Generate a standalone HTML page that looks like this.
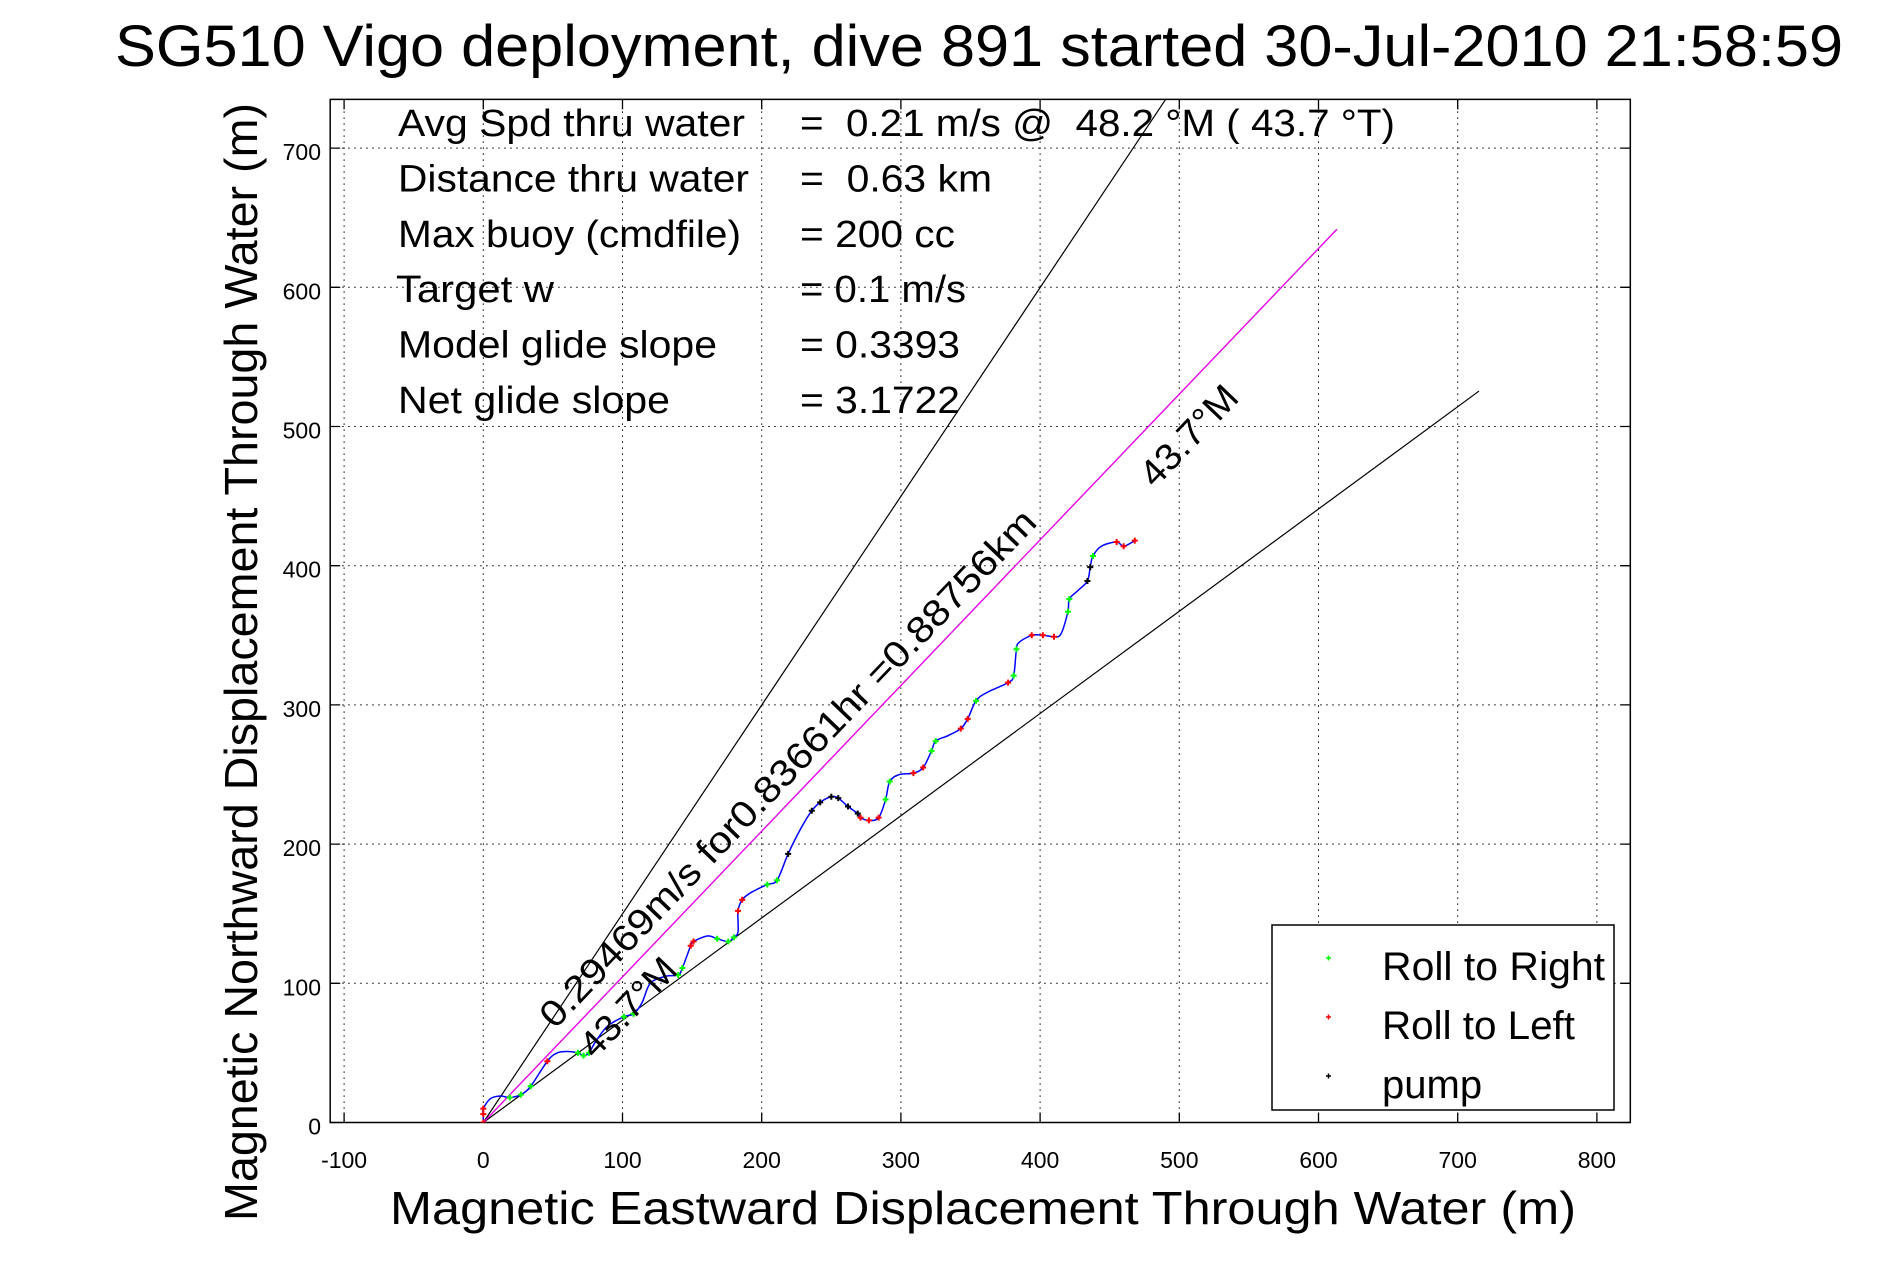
<!DOCTYPE html>
<html><head><meta charset="utf-8"><style>
html,body{margin:0;padding:0;background:#fff;}
svg{display:block;font-family:"Liberation Sans",sans-serif;}
#info text{white-space:pre;}
</style></head><body>
<svg id="chart" width="1891" height="1262" viewBox="0 0 1891 1262" xmlns="http://www.w3.org/2000/svg">
<rect width="1891" height="1262" fill="#fff"/>
<text x="115" y="66" font-size="58" textLength="1728" lengthAdjust="spacingAndGlyphs">SG510 Vigo deployment, dive 891 started 30-Jul-2010 21:58:59</text>
<g id="grid"></g>
<g id="axes"></g>
<g id="marks"></g>
<g font-size="38" id="info"></g>
<text x="983" y="1224" font-size="46" text-anchor="middle" textLength="1186" lengthAdjust="spacingAndGlyphs">Magnetic Eastward Displacement Through Water (m)</text>
<text transform="translate(257,662) rotate(-90)" font-size="46" text-anchor="middle" textLength="1118" lengthAdjust="spacingAndGlyphs">Magnetic Northward Displacement Through Water (m)</text>
<g>
<rect x="1272" y="925" width="342" height="185" fill="#fff" stroke="#000" stroke-width="1.5"/>
<g><path d="M1326 958h5M1328.5 955.5v5" stroke="#0f0" stroke-width="1.5"/><text x="1382" y="980" font-size="40" textLength="223" lengthAdjust="spacingAndGlyphs">Roll to Right</text></g>
<g><path d="M1326 1017h5M1328.5 1014.5v5" stroke="#f00" stroke-width="1.5"/><text x="1382" y="1039" font-size="40" textLength="193" lengthAdjust="spacingAndGlyphs">Roll to Left</text></g>
<g><path d="M1326 1076h5M1328.5 1073.5v5" stroke="#000" stroke-width="1.5"/><text x="1382" y="1098" font-size="40">pump</text></g>
</g>
</svg>
<script>
const xTicks=[-100,0,100,200,300,400,500,600,700,800];
const yTicks=[0,100,200,300,400,500,600,700];
const trackX=[0,0,0,5,12,19,27,34,46,53,61,68,72,76,80,89,101,108,114,120,131,140,143,149,151,161,168,176,180,183,183,186,192,204,211,219,228,236,242,250,255,262,269,271,277,284,289,292,299,309,316,322,325,334,343,348,354,362,377,381,383,385,394,402,410,415,420,421,427,434,436,438,444,455,460,468];
const trackY=[0,6,10,17,19,18,20,26,44,50,51,50,48,50,57,69,76,78,86,100,105,106,111,127,130,134,132,130,133,137,152,160,165,171,174,193,211,224,230,234,233,227,222,219,217,219,232,245,250,251,255,267,274,278,283,290,303,309,316,321,340,345,350,350,349,351,367,376,382,389,399,407,414,417,414,418];
const trackMark=['r','r','r','','','g','g','g','r','','','g','g','g','','','g','g','','','','g','g','r','r','','g','g','g','','r','r','','g','g','k','','k','k','k','k','k','k','r','r','r','g','g','','r','r','g','g','','r','r','g','','r','g','g','','r','r','r','','g','g','','k','k','g','','r','r','r'];
const headingDeg=43.7, distKm=0.88756, spreadDeg=10;
const xMin=-110,xMax=824,yMin=0,yMax=735;
const X0=483.3,Y0=1122.5,S=1.392;
const sx=v=>X0+v*S, sy=v=>Y0-v*S;
const NS="http://www.w3.org/2000/svg";
function mk(tag,attrs,parent){const e=document.createElementNS(NS,tag);for(const k in attrs)e.setAttribute(k,attrs[k]);parent.appendChild(e);return e;}
const L=sx(xMin),R=sx(xMax),T=sy(yMax),B=sy(yMin);
const grid=document.getElementById('grid'),axes=document.getElementById('axes'),marks=document.getElementById('marks');
xTicks.forEach(t=>{
 const l=mk('line',{x1:sx(t),x2:sx(t),y1:T,y2:B,stroke:'#000','stroke-width':1,'stroke-dasharray':'1.5,4.5'},grid);
 
 
 const tk=mk('path',{d:`M${sx(t)} ${B}v-10M${sx(t)} ${T}v10`,stroke:'#000','stroke-width':1.3},axes);
 
 
 const tx=mk('text',{x:sx(t),y:1168,'font-size':23,'text-anchor':'middle'},axes);tx.textContent=t;
 
 
});
yTicks.forEach(t=>{
 const l=mk('line',{x1:L,x2:R,y1:sy(t),y2:sy(t),stroke:'#000','stroke-width':1,'stroke-dasharray':'1.5,4.5'},grid);
 
 
 const tk=mk('path',{d:`M${L} ${sy(t)}h10M${R} ${sy(t)}h-10`,stroke:'#000','stroke-width':1.3},axes);
 
 
 const tx=mk('text',{x:321,y:sy(t)+12,'font-size':23,'text-anchor':'end'},axes);tx.textContent=t;
 
 
});
const box=mk('rect',{x:L,y:T,width:R-L,height:B-T,fill:'none',stroke:'#000','stroke-width':1.5},axes);


const defs=mk('defs',{},marks);const cp=mk('clipPath',{id:'pc'},defs);mk('rect',{x:L,y:T,width:R-L,height:B-T},cp);
marks.setAttribute('clip-path','url(#pc)');
const dm=distKm*1000;
function ray(deg,col,name,w){const a=deg*Math.PI/180;const l=mk('line',{x1:sx(0),y1:sy(0),x2:sx(dm*Math.sin(a)),y2:sy(dm*Math.cos(a)),stroke:col,'stroke-width':w},marks);
 
 }
ray(headingDeg-spreadDeg,'#000','upper-bound-line',1.2);
ray(headingDeg+spreadDeg,'#000','lower-bound-line',1.2);
ray(headingDeg,'#000','heading-line-black',1.2);
ray(headingDeg,'#f0f','heading-line',1.2);
const P=trackX.map((x,i)=>[sx(x),sy(trackY[i])]);
let d=`M${P[0][0]} ${P[0][1]}`;
for(let i=0;i<P.length-1;i++){const p0=P[Math.max(0,i-1)],p1=P[i],p2=P[i+1],p3=P[Math.min(P.length-1,i+2)];
 d+=`C${p1[0]+(p2[0]-p0[0])/6} ${p1[1]+(p2[1]-p0[1])/6} ${p2[0]-(p3[0]-p1[0])/6} ${p2[1]-(p3[1]-p1[1])/6} ${p2[0]} ${p2[1]}`;}
const tr=mk('path',{d:d,fill:'none',stroke:'#00f','stroke-width':1.5},marks);


const cols={g:'#0f0',r:'#f00',k:'#000'};
trackMark.forEach((m,i)=>{if(!m)return;const [x,y]=P[i];
 const p=mk('path',{d:`M${x-3} ${y}h6M${x} ${y-3}v6`,stroke:cols[m],'stroke-width':2},marks);
 
 });
const ang=-(90-headingDeg);
function rl(x,y,txt,len,name,fs){const t=mk('text',{transform:`translate(${x},${y}) rotate(${ang})`,'font-size':fs,textLength:len,lengthAdjust:'spacingAndGlyphs'},document.getElementById('chart'));t.textContent=txt;
 
 }
rl(555,1030,'0.29469m/s for0.83661hr =0.88756km',700,'speed-distance-label',37);
rl(595,1060,'43.7°M',122,'heading-label-lower',37);
rl(1155,489,'43.7°M',124,'heading-label-upper',37);
const infoLabels=['Avg Spd thru water','Distance thru water','Max buoy (cmdfile)','Target w','Model glide slope','Net glide slope'];
const infoValues=['=  0.21 m/s @  48.2 °M ( 43.7 °T)','=  0.63 km','= 200 cc','= 0.1 m/s','= 0.3393','= 3.1722'];
const infoLens=[347,351,343,158,319,272];
const valLens=[595,192,155,166,160,160];
const info=document.getElementById('info');
infoLabels.forEach((s,i)=>{const y=136+55.4*i;
 const a=mk('text',{x:i==3?396:398,y:y,textLength:infoLens[i],lengthAdjust:'spacingAndGlyphs'},info);a.textContent=s;
 
 
 const b=mk('text',{x:800,y:y,textLength:valLens[i],lengthAdjust:'spacingAndGlyphs'},info);b.textContent=infoValues[i];
 
 });
</script>
</body></html>
